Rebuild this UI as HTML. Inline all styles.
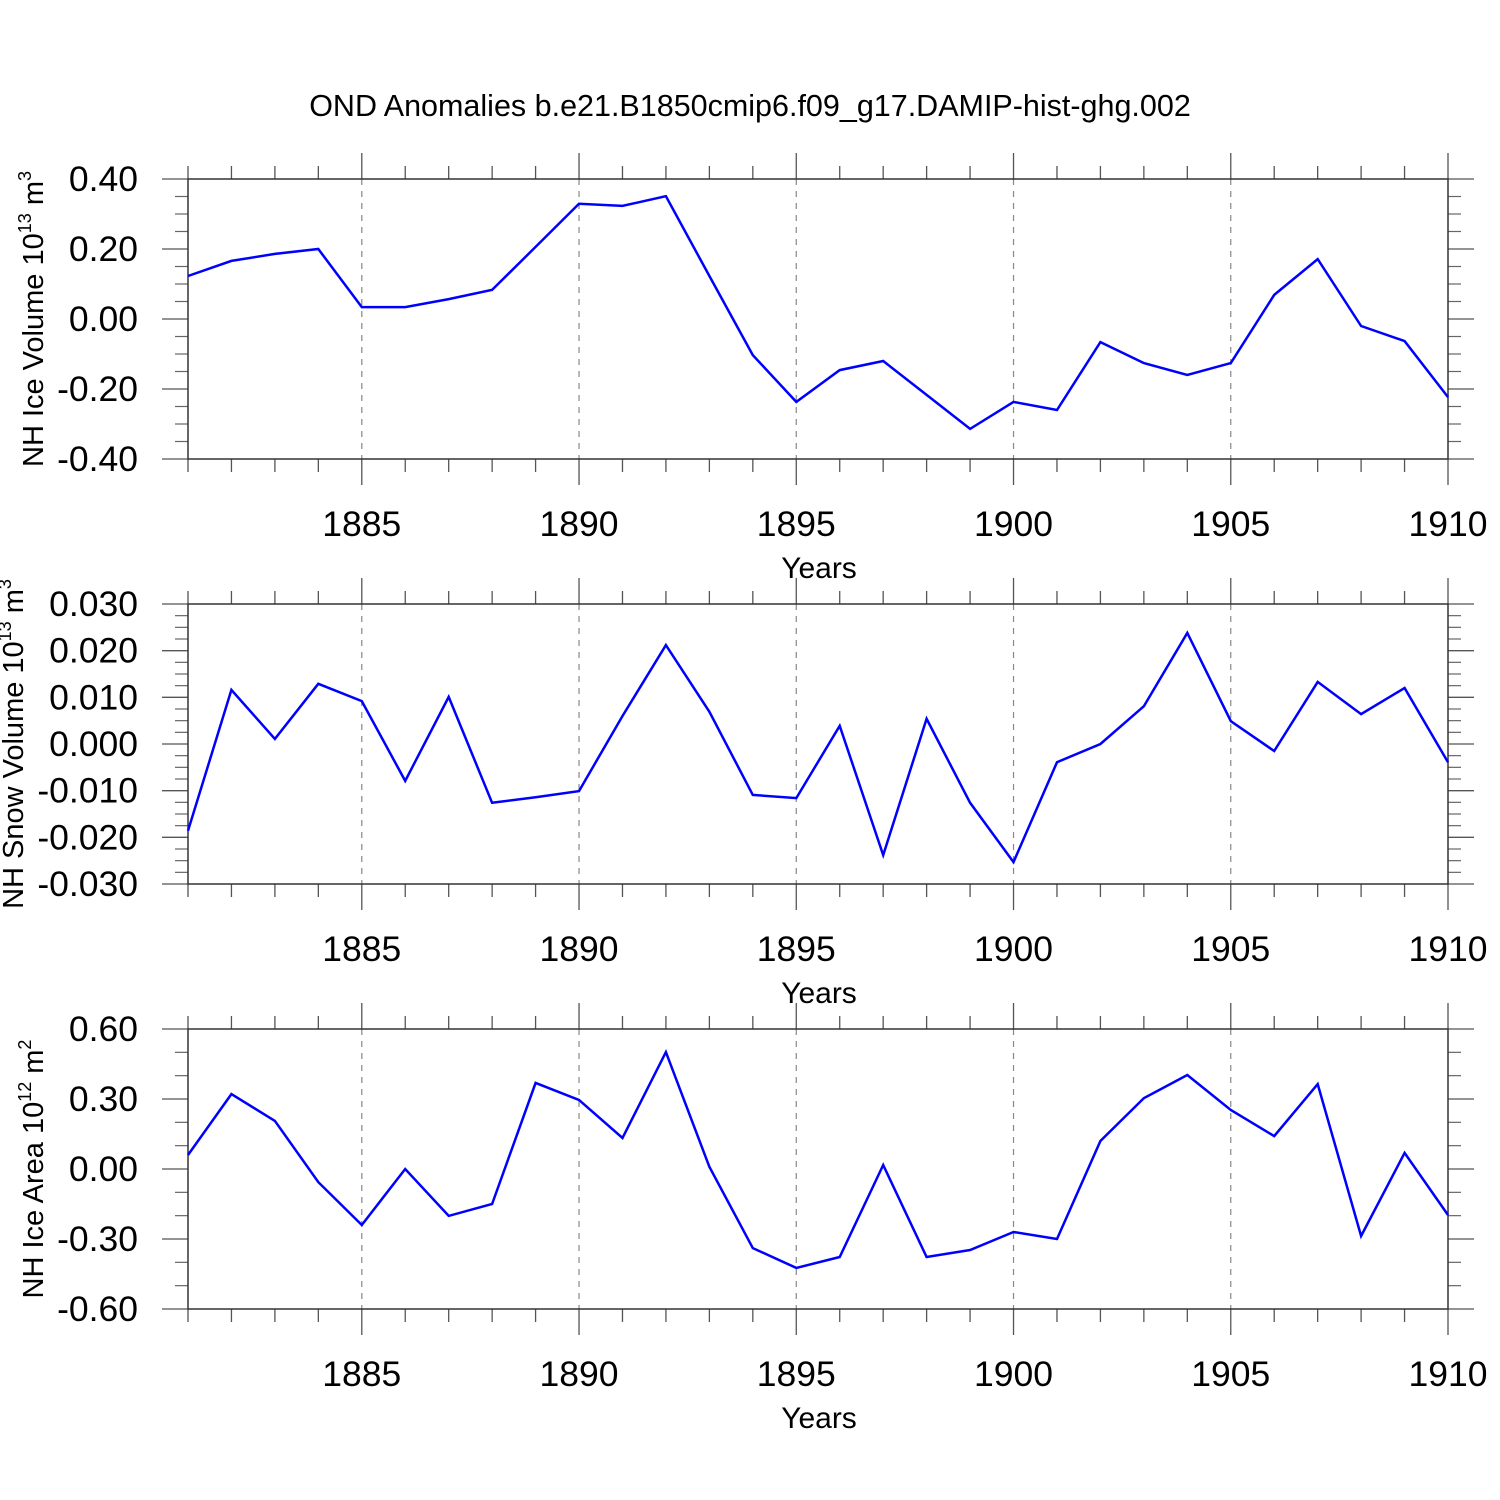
<!DOCTYPE html>
<html><head><meta charset="utf-8"><style>
html,body{margin:0;padding:0;background:#fff;}
svg{display:block;font-family:"Liberation Sans",sans-serif;}
</style></head><body>
<svg id="chart" width="1500" height="1500" viewBox="0 0 1500 1500">
<text x="750" y="116" font-size="30.5" text-anchor="middle">OND Anomalies b.e21.B1850cmip6.f09_g17.DAMIP-hist-ghg.002</text>
</svg>
<script>
const years = [1881,1882,1883,1884,1885,1886,1887,1888,1889,1890,1891,1892,1893,1894,1895,1896,1897,1898,1899,1900,1901,1902,1903,1904,1905,1906,1907,1908,1909,1910];
const iceVolume = [0.123,0.166,0.186,0.20,0.034,0.034,0.057,0.083,0.206,0.329,0.323,0.351,0.123,-0.103,-0.237,-0.146,-0.12,-0.217,-0.314,-0.237,-0.26,-0.066,-0.126,-0.16,-0.126,0.069,0.171,-0.02,-0.063,-0.223];
const snowVolume = [-0.0186,0.0116,0.0011,0.0129,0.0092,-0.0079,0.0101,-0.0126,-0.0114,-0.0101,0.006,0.0212,0.0069,-0.0109,-0.0116,0.0039,-0.0238,0.0054,-0.0126,-0.0253,-0.0039,0.0,0.0081,0.0238,0.0049,-0.0015,0.0133,0.0064,0.012,-0.0039];
const iceArea = [0.06,0.321,0.206,-0.056,-0.24,0,-0.201,-0.15,0.369,0.296,0.133,0.501,0.009,-0.339,-0.424,-0.377,0.017,-0.377,-0.347,-0.27,-0.3,0.12,0.304,0.403,0.253,0.141,0.364,-0.287,0.069,-0.197];
const xTickLabels = ["1885","1890","1895","1900","1905","1910"];
const iceVolTicks = ["0.40","0.20","0.00","-0.20","-0.40"];
const snowVolTicks = ["0.030","0.020","0.010","0.000","-0.010","-0.020","-0.030"];
const iceAreaTicks = ["0.60","0.30","0.00","-0.30","-0.60"];

const NS="http://www.w3.org/2000/svg";
const svg=document.getElementById('chart');
function mk(tag,attrs,parent){const e=document.createElementNS(NS,tag);for(const k in attrs)e.setAttribute(k,attrs[k]);(parent||svg).appendChild(e);return e;}
const X0=188,X1=1448,YR0=1881,YR1=1910;
function xs(yr){return X0+(yr-YR0)*(X1-X0)/(YR1-YR0);}

function panel(name,top,ymin,ymax,tickLabels,data,titleParts,minorPerMajor,titleX){
  const bot=top+280;
  const g=mk('g',{});
  
  
  const ys=v=>bot-(v-ymin)*(bot-top)/(ymax-ymin);
  for(let yr=1885;yr<=1905;yr+=5){
    const l=mk('line',{x1:xs(yr),x2:xs(yr),y1:top,y2:bot,stroke:'#888','stroke-width':1.2,'stroke-dasharray':'6,6'},g);
    
    
  }
  for(let yr=YR0;yr<=YR1;yr++){
    const major=(yr%5===0);const len=major?26:13;
    mk('line',{x1:xs(yr),x2:xs(yr),y1:top-len,y2:top,stroke:'#555','stroke-width':1.3},g);
    mk('line',{x1:xs(yr),x2:xs(yr),y1:bot,y2:bot+len,stroke:'#555','stroke-width':1.3},g);
  }
  xTickLabels.forEach(s=>{
    const t=mk('text',{x:xs(+s),y:bot+77,'font-size':35.5,'text-anchor':'middle'},g);
    t.textContent=s;
    
    
  });
  const xt=mk('text',{x:819,y:bot+119,'font-size':30,'text-anchor':'middle'},g);
  xt.textContent='Years';
  
  
  const n=tickLabels.length;
  for(let i=0;i<n;i++){
    const v=ymax-i*(ymax-ymin)/(n-1);const y=ys(v);
    mk('line',{x1:X0-26,x2:X0,y1:y,y2:y,stroke:'#555','stroke-width':1.3},g);
    mk('line',{x1:X1,x2:X1+26,y1:y,y2:y,stroke:'#555','stroke-width':1.3},g);
    const t=mk('text',{x:138,y:y+12,'font-size':35.5,'text-anchor':'end'},g);
    t.textContent=tickLabels[i];
    
    
    if(i<n-1){for(let k=1;k<=minorPerMajor;k++){const yy=y+k*280/(n-1)/(minorPerMajor+1);
      mk('line',{x1:X0-13,x2:X0,y1:yy,y2:yy,stroke:'#666','stroke-width':1.2},g);
      mk('line',{x1:X1,x2:X1+13,y1:yy,y2:yy,stroke:'#666','stroke-width':1.2},g);}}
  }
  const f=mk('rect',{x:X0,y:top,width:X1-X0,height:280,fill:'none',stroke:'#333','stroke-width':1.5},g);
  
  
  const pts=data.map((v,i)=>xs(years[i]).toFixed(1)+','+ys(v).toFixed(1)).join(' ');
  const pl=mk('polyline',{points:pts,fill:'none',stroke:'#0000ff','stroke-width':2.5,'stroke-linejoin':'miter'},g);
  
  
  const cy=top+140;
  const tt=mk('text',{x:0,y:0,'font-size':29,'text-anchor':'middle',transform:`translate(${titleX},${cy}) rotate(-90)`},g);
  
  
  titleParts.forEach(p=>{const ts=mk('tspan',p.sup?{'font-size':18,dy:-12}:(p.after?{dy:12}:{}),tt);ts.textContent=p.t;});
}
panel('ice-volume',179,-0.4,0.4,iceVolTicks,iceVolume,[{t:'NH Ice Volume 10'},{t:'13',sup:1},{t:' m',after:1},{t:'3',sup:1}],3,43);
panel('snow-volume',604,-0.03,0.03,snowVolTicks,snowVolume,[{t:'NH Snow Volume 10'},{t:'13',sup:1},{t:' m',after:1},{t:'3',sup:1}],3,23);
panel('ice-area',1029,-0.6,0.6,iceAreaTicks,iceArea,[{t:'NH Ice Area 10'},{t:'12',sup:1},{t:' m',after:1},{t:'2',sup:1}],2,43);
</script>
</body></html>
